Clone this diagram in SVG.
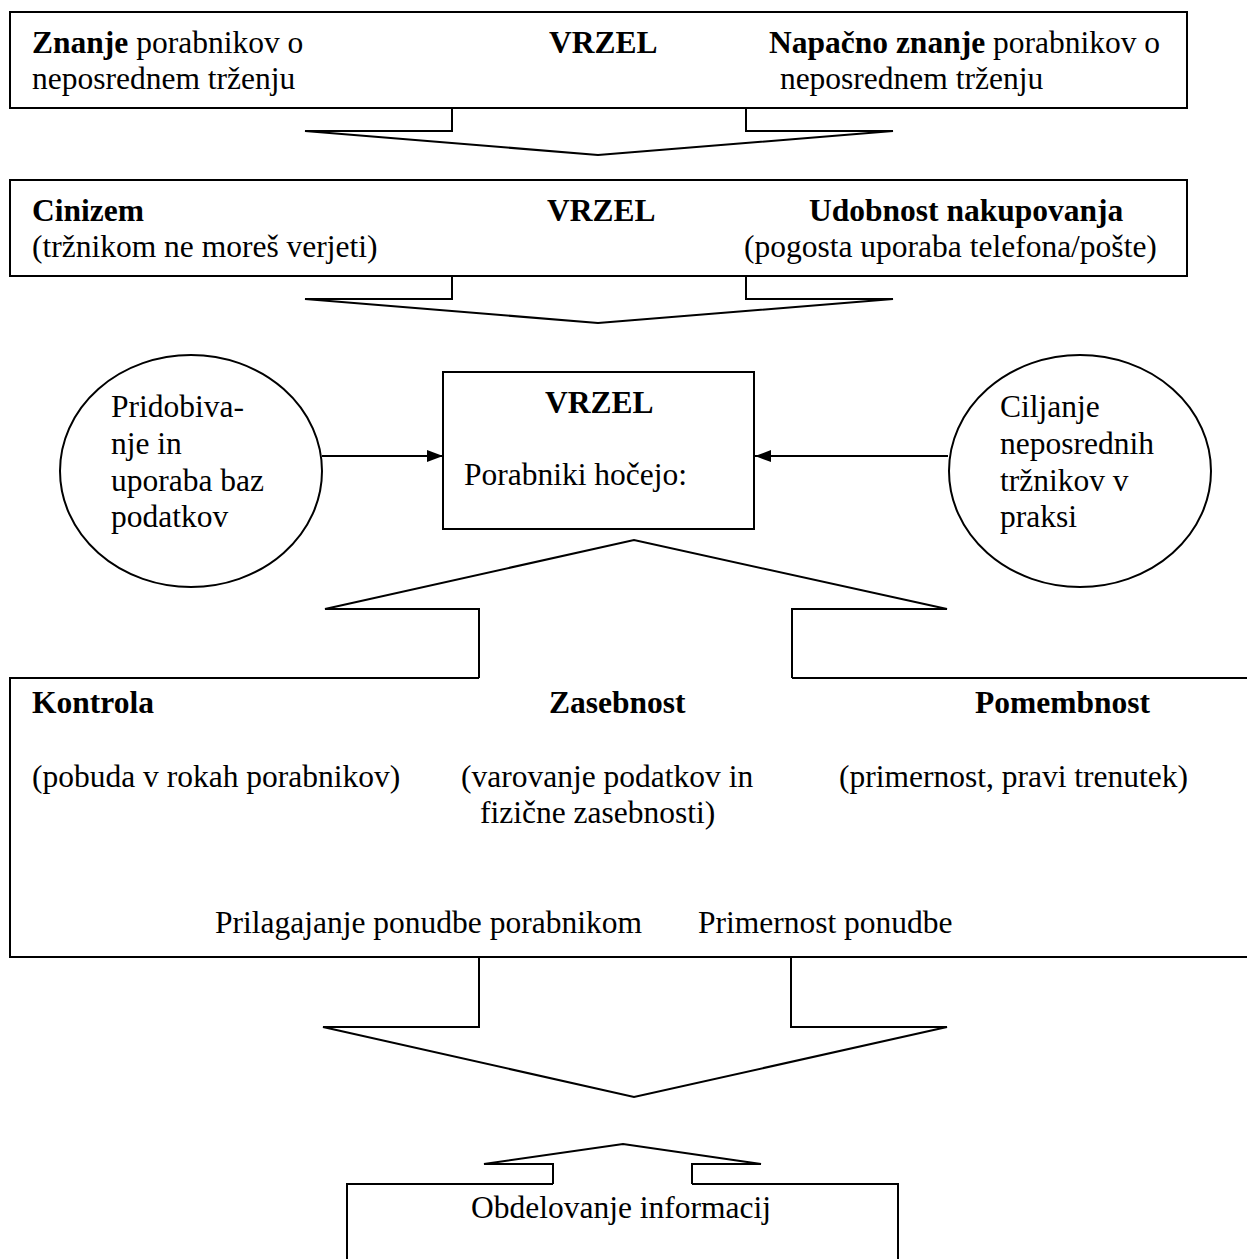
<svg xmlns="http://www.w3.org/2000/svg" width="1247" height="1259" viewBox="0 0 1247 1259">
  <style>
    .shape { fill: none; stroke: #000; stroke-width: 2; stroke-linejoin: miter; }
    .box { fill: #fff; stroke: #000; stroke-width: 2; }
    text { font-family: "Liberation Serif", "Times New Roman", serif; font-size: 31.5px; fill: #000; }
    .b { font-weight: bold; }
  </style>
  <defs>
    <marker id="arrowhead" markerUnits="userSpaceOnUse" markerWidth="16" markerHeight="12" refX="16" refY="6" orient="auto">
      <path d="M0,0 L16,6 L0,12 z" fill="#000"/>
    </marker>
  </defs>
  <rect width="1247" height="1259" fill="#fff"/>

  <!-- first gap box -->
  <g id="gap-knowledge">
    <rect class="box" x="10" y="12" width="1177" height="96"/>
    <text x="32" y="53"><tspan class="b">Znanje</tspan> porabnikov o</text>
    <text x="32" y="89">neposrednem trženju</text>
    <text class="b" x="549" y="53">VRZEL</text>
    <text x="769" y="53"><tspan class="b">Napačno znanje</tspan> porabnikov o</text>
    <text x="772" y="89" xml:space="preserve"> neposrednem trženju</text>
  </g>

  <!-- second gap box -->
  <g id="gap-cynicism">
    <rect class="box" x="10" y="180" width="1177" height="96"/>
    <text class="b" x="32" y="221">Cinizem</text>
    <text x="32" y="257">(tržnikom ne moreš verjeti)</text>
    <text class="b" x="547" y="221">VRZEL</text>
    <text class="b" x="809" y="221">Udobnost nakupovanja</text>
    <text x="744" y="257">(pogosta uporaba telefona/pošte)</text>
  </g>

  <!-- central gap box -->
  <g id="gap-wants">
    <rect class="box" x="443" y="372" width="311" height="157"/>
    <text class="b" x="545" y="413">VRZEL</text>
    <text x="464" y="485">Porabniki hočejo:</text>
  </g>

  <!-- side ellipses -->
  <g id="databases">
    <ellipse class="box" cx="191" cy="471" rx="131" ry="116"/>
    <text x="111" y="417">Pridobiva-</text>
    <text x="111" y="454">nje in</text>
    <text x="111" y="491">uporaba baz</text>
    <text x="111" y="527">podatkov</text>
  </g>
  <g id="targeting">
    <ellipse class="box" cx="1080" cy="471" rx="131" ry="116"/>
    <text x="1000" y="417">Ciljanje</text>
    <text x="1000" y="454">neposrednih</text>
    <text x="1000" y="491">tržnikov v</text>
    <text x="1000" y="527">praksi</text>
  </g>

  <!-- large box with three needs -->
  <g id="needs">
    <path class="shape" d="M479,678 H10 V957 H1260 M792,678 H1260"/>
    <text class="b" x="32" y="713">Kontrola</text>
    <text class="b" x="549" y="713">Zasebnost</text>
    <text class="b" x="975" y="713">Pomembnost</text>
    <text x="32" y="787">(pobuda v rokah porabnikov)</text>
    <text x="461" y="787">(varovanje podatkov in</text>
    <text x="480" y="823">fizične zasebnosti)</text>
    <text x="839" y="787">(primernost, pravi trenutek)</text>
    <text x="215" y="933">Prilagajanje ponudbe porabnikom</text>
    <text x="698" y="933">Primernost ponudbe</text>
  </g>

  <!-- bottom box -->
  <g id="info-sharing">
    <path class="shape" d="M553,1184 H347 V1270 M692,1184 H898 V1270"/>
    <text x="471" y="1218">Obdelovanje informacij</text>
  </g>

  <!-- block arrows and connectors -->
  <g id="connectors">
    <path class="shape" d="M452,108 V131 H305 L598,155 L893,131 H746 V108"/>
    <path class="shape" d="M452,276 V299 H305 L598,323 L893,299 H746 V276"/>
    <path class="shape" d="M479,678 V609 H325 L634,540 L947,609 H792 V678"/>
    <path class="shape" d="M479,957 V1027 H323 L634,1097 L947,1027 H791 V957"/>
    <path class="shape" d="M553,1184 V1164 H484 L623,1144 L761,1164 H692 V1184"/>
    <line class="shape" x1="322" y1="456" x2="443" y2="456" marker-end="url(#arrowhead)"/>
    <line class="shape" x1="948" y1="456" x2="755" y2="456" marker-end="url(#arrowhead)"/>
  </g>
</svg>
